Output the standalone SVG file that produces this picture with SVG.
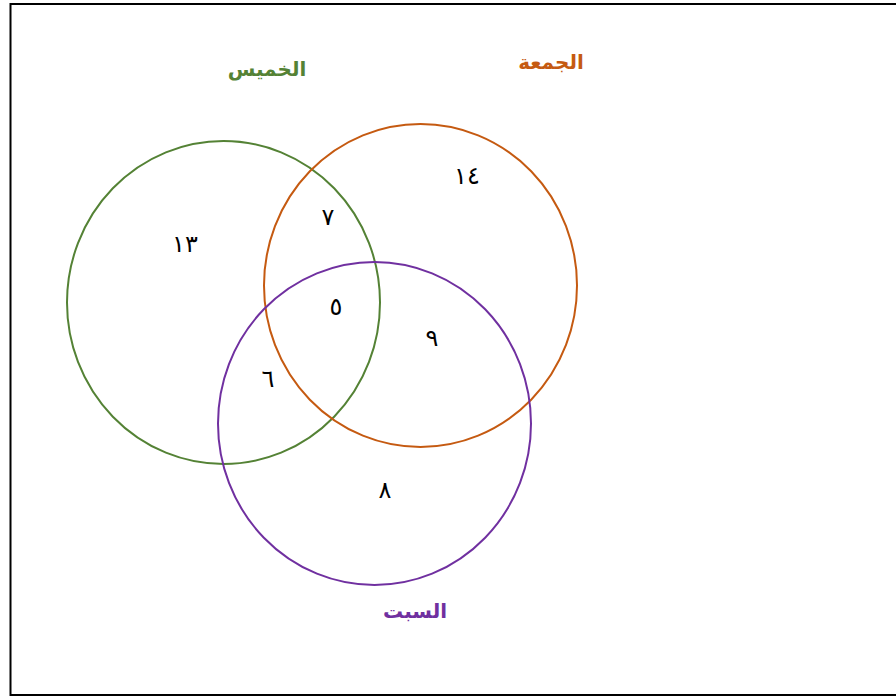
<svg xmlns="http://www.w3.org/2000/svg" width="896" height="697" viewBox="0 0 896 697">
<style>
.c{fill:none;stroke-width:2}
.lbl{font-family:"DejaVu Sans",sans-serif;font-weight:bold;font-size:20px;text-anchor:middle}
.n{font-family:"DejaVu Sans",sans-serif;font-size:24px;text-anchor:middle;fill:#000}
</style>
<rect x="10.5" y="4" width="890" height="691" fill="#fff" stroke="#000" stroke-width="2"/>
<g id="connectors"></g>
<g id="thursday">
<ellipse class="c" cx="223.5" cy="302.5" rx="156.5" ry="161.5" stroke="#548235"/>
<text class="lbl" x="267" y="76" fill="#548235" direction="rtl">الخميس</text>
</g>
<g id="friday">
<ellipse class="c" cx="420.5" cy="285.5" rx="156.5" ry="161.5" stroke="#C55A11"/>
<text class="lbl" x="551" y="69" fill="#C55A11" direction="rtl">الجمعة</text>
</g>
<g id="saturday">
<ellipse class="c" cx="374.5" cy="423.5" rx="156.5" ry="161.5" stroke="#7030A0"/>
<text class="lbl" x="415" y="618" fill="#7030A0" direction="rtl">السبت</text>
</g>
<g id="values">
<text class="n" x="185" y="252">١٣</text>
<text class="n" x="467" y="184">١٤</text>
<text class="n" x="328" y="225">٧</text>
<text class="n" x="336" y="315">٥</text>
<text class="n" x="432" y="346">٩</text>
<text class="n" x="268" y="387">٦</text>
<text class="n" x="385" y="498">٨</text>
</g>
</svg>
